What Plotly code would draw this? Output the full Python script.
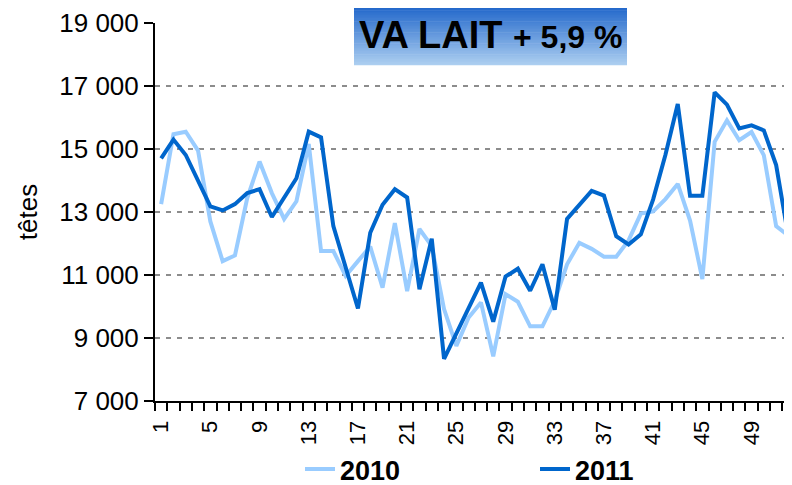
import plotly.graph_objects as go

# ---- data ----
weeks = list(range(1, 53))
tetes_2010 = [13250, 15470, 15550, 14950, 12700, 11440, 11620, 13440, 14600, 13600,
              12780, 13340, 15160, 11760, 11760, 10970, 11440, 11900, 10600, 12650,
              10490, 12460, 11920, 9920, 8750, 9650, 10130, 8420, 10390, 10150,
              9370, 9370, 10180, 11340, 12020, 11830, 11580, 11580, 12100, 12950,
              13020, 13410, 13890, 12730, 10870, 15230, 15910, 15280, 15540, 14800,
              12550, 12250]
tetes_2011 = [14700, 15300, 14810, 14000, 13180, 13050, 13250, 13600, 13725, 12840,
              13450, 14070, 15550, 15370, 12550, 11280, 9935, 12340, 13230, 13725,
              13460, 10545, 12150, 8340, 9150, 9950, 10760, 9520, 10950, 11200,
              10500, 11340, 9900, 12780, 13230, 13670, 13520, 12230, 11970, 12290,
              13400, 14820, 16430, 13515, 13515, 16800, 16410, 15650, 15750, 15590,
              14490, 12200]
x_tick_vals = list(range(1, 53, 4))
x_tick_text = [str(v) for v in x_tick_vals]
y_tick_vals = [7000, 9000, 11000, 13000, 15000, 17000, 19000]
y_tick_text = ["7 000", "9 000", "11 000", "13 000", "15 000", "17 000", "19 000"]
title_main = "VA LAIT"
title_change = "+ 5,9 %"
y_title = "têtes"

FONT = "Arial, 'Liberation Sans', sans-serif"
OFF = 8  # page body margin offset
W, H = 792 - OFF, 485 - OFF
ML, MR, MT, MB = 155 - OFF, 0, 22.7 - OFF, 84
PW, PH = W - ML - MR, H - MT - MB

def px_x(px):
    return (px - OFF - ML) / PW

def px_y(py):
    return (H - MB - (py - OFF)) / PH

fig = go.Figure()
fig.add_trace(go.Scatter(x=weeks, y=tetes_2010, mode="lines", name="2010",
                         line=dict(color="#99CCFF", width=4)))
fig.add_trace(go.Scatter(x=weeks, y=tetes_2011, mode="lines", name="2011",
                         line=dict(color="#0066CC", width=4)))

# gradient title box (stacked strips)
shapes = []
top, bot = 2, 65
n = 40
c0 = (24, 96, 200)
c1 = (172, 206, 240)
for i in range(n):
    t = i / (n - 1)
    c = tuple(round(c0[k] + (c1[k] - c0[k]) * t) for k in range(3))
    y0 = top + (bot - top) * i / n
    y1 = top + (bot - top) * (i + 1) / n + 0.6
    shapes.append(dict(type="rect", xref="paper", yref="paper",
                       x0=px_x(354), x1=px_x(627), y0=px_y(min(y1, bot)), y1=px_y(y0),
                       line=dict(width=0), fillcolor="rgb(%d,%d,%d)" % c, layer="above"))

annotations = [
    dict(text="<b>%s</b>" % title_main, xref="paper", yref="paper",
         x=px_x(430.5), y=px_y(35), xanchor="center", yanchor="middle",
         showarrow=False, font=dict(family=FONT, size=38, color="black")),
    dict(text="<b>%s</b>" % title_change, xref="paper", yref="paper",
         x=px_x(567.5), y=px_y(37), xanchor="center", yanchor="middle",
         showarrow=False, font=dict(family=FONT, size=32, color="black")),
]

fig.update_layout(
    width=W, height=H,
    margin=dict(l=ML, r=MR, t=MT, b=MB, autoexpand=False),
    paper_bgcolor="white", plot_bgcolor="white",
    font=dict(family=FONT, color="black"),
    shapes=shapes, annotations=annotations,
    showlegend=True,
    legend=dict(orientation="h", x=px_x(300), xanchor="left", y=px_y(445), yanchor="top",
                font=dict(family=FONT, size=27, color="black", weight="bold"),
                entrywidth=190, bgcolor="rgba(0,0,0,0)"),
    xaxis=dict(range=[0.5, 0.5 + PW / 12.3], tickmode="array", tickvals=x_tick_vals,
               ticktext=x_tick_text, tickangle=-90, ticks="outside", ticklen=9,
               tickcolor="rgba(0,0,0,0)", tickfont=dict(family=FONT, size=22, color="black"),
               showgrid=False, zeroline=False, showline=True, linecolor="black", linewidth=2,
               automargin=False,
               minor=dict(tickmode="linear", tick0=0.5, dtick=1, ticks="outside",
                          ticklen=8, tickwidth=1.5, tickcolor="black", showgrid=False)),
    yaxis=dict(range=[7000, 19000], tickmode="array", tickvals=y_tick_vals,
               ticktext=y_tick_text, ticks="outside", ticklen=9, tickwidth=2,
               tickcolor="black", tickfont=dict(family=FONT, size=26, color="black"),
               showgrid=True, gridcolor="#8C8C8C", gridwidth=2, griddash="5px,6px",
               zeroline=False, showline=True, linecolor="black", linewidth=2,
               automargin=False,
               title=dict(text=y_title, font=dict(family=FONT, size=26, color="black"),
                          standoff=14)),
)

fig.write_html("out.html")
